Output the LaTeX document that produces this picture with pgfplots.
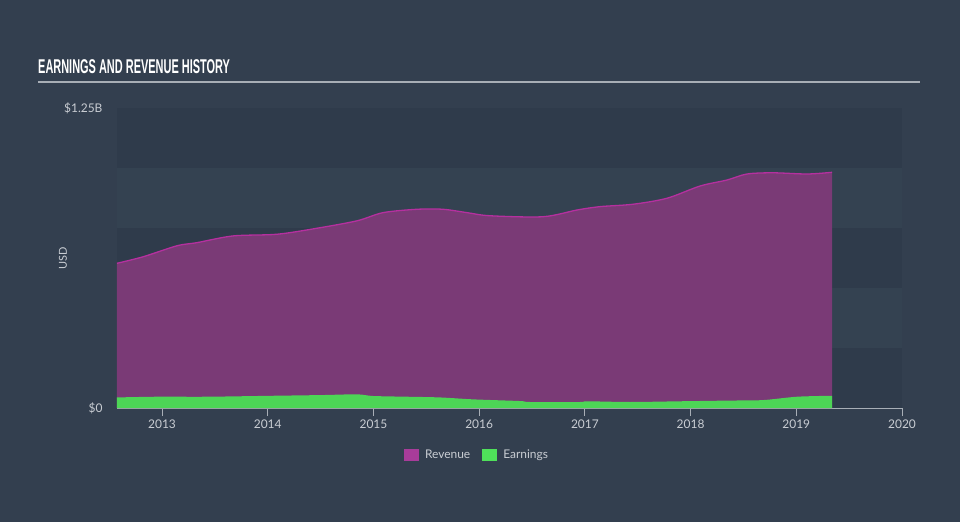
\documentclass[border=0pt]{standalone}
\usepackage{pgfplots}
\pgfplotsset{compat=1.18}
\usepackage{pgfplotstable}
\usepackage{fontspec}
\setmainfont{Lato}
\newfontfamily\titlefont[FakeStretch=0.55]{Liberation Sans Bold}
\definecolor{bg}{HTML}{333F4F}
\definecolor{banddark}{HTML}{2F3B4B}
\definecolor{bandlight}{HTML}{344251}
\definecolor{revfill}{HTML}{7A3A76}
\definecolor{revline}{HTML}{B5309F}
\definecolor{earnfill}{HTML}{4DD556}
\definecolor{revleg}{HTML}{A83C9A}
\definecolor{earnleg}{HTML}{4FE05A}
\definecolor{ticktext}{HTML}{C9CDD3}
\definecolor{axisline}{HTML}{A8AEB6}

\pgfplotstableread{
x y
2012.574 0.603
2012.820 0.630
2013.142 0.676
2013.331 0.689
2013.672 0.717
2014.088 0.724
2014.466 0.749
2014.845 0.780
2015.091 0.814
2015.412 0.828
2015.658 0.828
2015.885 0.814
2016.103 0.801
2016.604 0.797
2016.926 0.825
2017.143 0.839
2017.456 0.849
2017.777 0.874
2018.090 0.925
2018.345 0.950
2018.534 0.975
2018.780 0.980
2019.102 0.975
2019.338 0.982
}\revenue

\pgfplotstableread{
x y
2012.574 0.044
2012.953 0.047
2013.426 0.047
2014.050 0.051
2014.523 0.054
2014.845 0.057
2014.996 0.050
2015.318 0.047
2015.630 0.044
2015.942 0.036
2016.387 0.029
2016.481 0.025
2016.954 0.025
2017.020 0.028
2017.427 0.025
2017.900 0.028
2018.373 0.031
2018.685 0.033
2019.007 0.047
2019.338 0.051
}\earnings

\begin{document}
\begin{tikzpicture}
\fill[bg] (-117bp,-114bp) rectangle (843bp,408bp);
\begin{axis}[
  at={(0,0)}, anchor=south west,
  scale only axis, width=785bp, height=300bp,
  xmin=2012.574, xmax=2020, ymin=0, ymax=1.25,
  axis x line*=bottom,
  axis y line*=left,
  x axis line style={draw=axisline, line width=1.2bp, -},
  y axis line style={draw=none},
  xtick={2013,2014,2015,2016,2017,2018,2019,2020},
  xticklabels={2013,2014,2015,2016,2017,2018,2019,2020},
  xtick align=outside,
  major tick length=8bp,
  xtick style={draw=axisline, line width=1bp},
  xticklabel style={font=\fontsize{12}{14}\selectfont, text=ticktext},
  ytick={0,1.25},
  yticklabels={\$0,\$1.25B},
  ytick style={draw=none},
  yticklabel style={font=\fontsize{12}{14}\selectfont, text=ticktext, anchor=east, xshift=-11bp},
  ylabel={USD},
  ylabel style={font=\fontsize{11}{13}\selectfont, text=ticktext, at={(axis description cs:-0.0688,0.5)}, anchor=center, rotate=0},
  legend columns=2,
  legend style={at={(axis description cs:0.4586,-0.157)}, anchor=center, draw=none, fill=none,
    text=ticktext, font=\fontsize{12}{14}\selectfont,
    /tikz/every even column/.append style={column sep=10bp}},
  clip=false,
]
\fill[banddark] (axis cs:2012.574,0) rectangle (axis cs:2020,0.25);
\fill[bandlight] (axis cs:2012.574,0.25) rectangle (axis cs:2020,0.5);
\fill[banddark] (axis cs:2012.574,0.5) rectangle (axis cs:2020,0.75);
\fill[bandlight] (axis cs:2012.574,0.75) rectangle (axis cs:2020,1.0);
\fill[banddark] (axis cs:2012.574,1.0) rectangle (axis cs:2020,1.25);

\addlegendimage{legend image code/.code={\path[draw=none, fill=revleg] (0bp,-6bp) rectangle (15bp,6bp); \path[draw=none, fill=none] (0bp,0bp) rectangle (19bp,0bp);}}
\addlegendentry{Revenue}
\addlegendimage{legend image code/.code={\path[draw=none, fill=earnleg] (0bp,-6bp) rectangle (15bp,6bp); \path[draw=none, fill=none] (0bp,0bp) rectangle (19bp,0bp);}}
\addlegendentry{Earnings}

\addplot[forget plot, fill=revfill, draw=none, smooth, tension=0.5] table {\revenue} \closedcycle;
\addplot[forget plot, draw=revline, line width=1.3bp, smooth, tension=0.5] table {\revenue};
\addplot[forget plot, fill=earnfill, draw=none, smooth, tension=0.5] table {\earnings} \closedcycle;
\end{axis}
\node[anchor=base west, inner sep=0, text=white, font=\titlefont\fontsize{20}{22}\selectfont] at (-79bp,334bp) {EARNINGS AND REVENUE HISTORY};
\draw[color=axisline, line width=1.8bp] (-79bp,326.3bp) -- (803bp,326.3bp);
\pgfresetboundingbox
\path (-117bp,-114bp) rectangle (843bp,408bp);
\end{tikzpicture}
\end{document}
